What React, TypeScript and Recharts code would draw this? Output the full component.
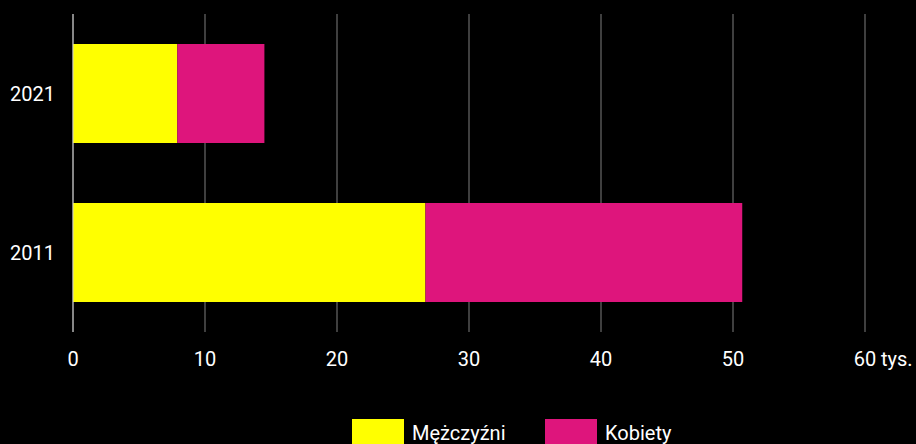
import { BarChart, Bar, XAxis, YAxis, CartesianGrid, ReferenceLine, Legend } from 'recharts';

const years = ['2021', '2011'];
const men = [7.9, 26.7];
const women = [6.6, 24.0];
const xTicks = [0, 10, 20, 30, 40, 50, 60];

const MEN_COLOR = '#ffff00';
const WOMEN_COLOR = '#de157c';
const FONT = 'Roboto, "Open Sans", sans-serif';

const data = years.map((year, i) => ({ year, men: men[i], women: women[i] }));

const XTick = (props: any) => {
  const { x, y, payload } = props;
  const last = payload.value === xTicks[xTicks.length - 1];
  return (
    <g>
      <text x={x} y={y} dy="0.71em" textAnchor="middle" fill="#fff" fontSize={20} fontFamily={FONT}>
        {payload.value}
      </text>
      {last && (
        <text x={x + 16} y={y} dy="0.71em" textAnchor="start" fill="#fff" fontSize={20} fontFamily={FONT}>
          tys.
        </text>
      )}
    </g>
  );
};

const legendItems = [
  { label: 'Mężczyźni', color: MEN_COLOR, left: 352 },
  { label: 'Kobiety', color: WOMEN_COLOR, left: 545 },
];

const renderLegend = () => (
  <div style={{ position: 'relative', width: 916, height: 25, overflow: 'hidden' }}>
    {legendItems.map((it) => (
      <div key={it.label}>
        <div style={{ position: 'absolute', left: it.left, top: 0, width: 52, height: 52, background: it.color }} />
        <div
          style={{
            position: 'absolute',
            left: it.left + 60,
            top: 2,
            lineHeight: '25px',
            fontSize: 20,
            fontFamily: FONT,
            color: '#fff',
            whiteSpace: 'nowrap',
          }}
        >
          {it.label}
        </div>
      </div>
    ))}
  </div>
);

export default function App() {
  return (
    <div style={{ position: 'fixed', left: 0, top: 0, width: 916, height: 444, background: '#000' }}>
      <BarChart
        width={916}
        height={444}
        data={data}
        layout="vertical"
        margin={{ top: 14, right: 51, bottom: 0, left: 0 }}
        barCategoryGap={30}
      >
        <CartesianGrid horizontal={false} stroke="#7f7f7f" />
        <XAxis
          type="number"
          domain={[0, 60]}
          ticks={xTicks}
          axisLine={false}
          tickLine={false}
          tickMargin={14}
          height={87}
          tick={<XTick />}
          interval={0}
        />
        <YAxis
          type="category"
          dataKey="year"
          width={73}
          axisLine={false}
          tickLine={false}
          tickMargin={12}
          tick={{ fill: '#fff', fontSize: 20, fontFamily: FONT }}
        />
        <Bar dataKey="men" stackId="a" fill={MEN_COLOR} isAnimationActive={false} />
        <Bar dataKey="women" stackId="a" fill={WOMEN_COLOR} isAnimationActive={false} />
        <ReferenceLine x={0} stroke="#cfcfcf" />
        <Legend verticalAlign="bottom" content={renderLegend} wrapperStyle={{ left: 0, width: 916, height: 25 }} />
      </BarChart>
    </div>
  );
}
